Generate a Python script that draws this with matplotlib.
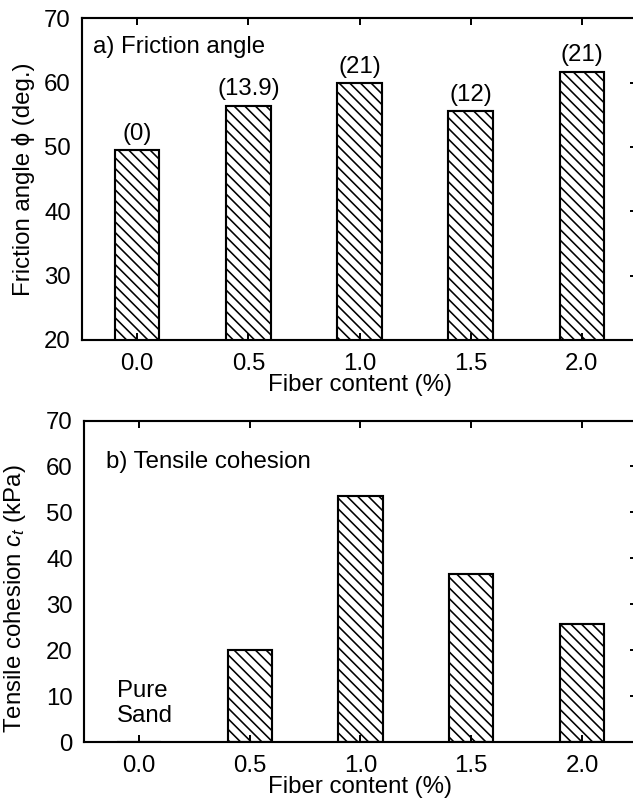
import numpy as np
import matplotlib
matplotlib.use("Agg")
import matplotlib.pyplot as plt

plt.rcParams['font.family'] = ['Liberation Sans', 'DejaVu Sans']
plt.rcParams['mathtext.fontset'] = 'custom'
plt.rcParams['mathtext.rm'] = 'Liberation Sans'
plt.rcParams['mathtext.it'] = 'Liberation Sans:italic'
plt.rcParams['hatch.linewidth'] = 0.9
plt.rcParams['font.size'] = 13.5

# fiber content (%) and measured strength parameters
fiber = [0.0, 0.5, 1.0, 1.5, 2.0]
tick_labels = ["0.0", "0.5", "1.0", "1.5", "2.0"]
friction = [49.5, 56.4, 59.9, 55.6, 61.7]
friction_notes = ["(0)", "(13.9)", "(21)", "(12)", "(21)"]
cohesion = [0.0, 20.0, 53.6, 36.5, 25.8]

dpi = 128
fig = plt.figure(figsize=(633 / dpi, 798 / dpi), dpi=dpi)
ax1 = fig.add_axes([0.129, 0.574, 0.878, 0.403])
ax2 = fig.add_axes([0.132, 0.070, 0.875, 0.403])

def style(ax, ylim, xpad):
    ax.set_xlim(-0.25, 2.25)
    ax.set_ylim(*ylim)
    ax.set_xticks(fiber)
    ax.set_xticklabels(tick_labels)
    ax.set_yticks(np.arange(ylim[0], ylim[1] + 1, 10))
    for s in ax.spines.values():
        s.set_linewidth(1.2)
    ax.tick_params(axis='x', direction='in', top=True, bottom=True,
                   length=4, width=1.1, pad=7.5)
    ax.tick_params(axis='y', direction='in', left=False, right=True,
                   length=4, width=1.1, pad=6)
    ax.set_xlabel("Fiber content (%)", labelpad=xpad)

for ax, vals, ylim, xpad in [(ax1, friction, (20, 70), -0.5),
                             (ax2, cohesion, (0, 70), -1)]:
    ax.bar(fiber, vals, width=0.2, bottom=0, color='white', edgecolor='black',
           linewidth=1.2, hatch='\\\\\\\\')
    style(ax, ylim, xpad)

for x, v, s in zip(fiber, friction, friction_notes):
    ax1.annotate(s, (x, v), xytext=(0, 3), textcoords='offset points',
                 ha='center', va='bottom')

ax1.text(0.02, 0.91, "a) Friction angle", transform=ax1.transAxes,
         ha='left', va='center')
ax1.set_ylabel("Friction angle \u03d5 (deg.)", labelpad=5)

ax2.text(0.04, 0.872, "b) Tensile cohesion", transform=ax2.transAxes,
         ha='left', va='center')
ax2.text(-0.1, 8.4, "Pure\nSand", ha='left', va='center', linespacing=1.2)
ax2.set_ylabel("Tensile cohesion $c_t$ (kPa)")
ax2.yaxis.set_label_coords(-0.1, 0.446)

fig.savefig("out.png", dpi=dpi)
